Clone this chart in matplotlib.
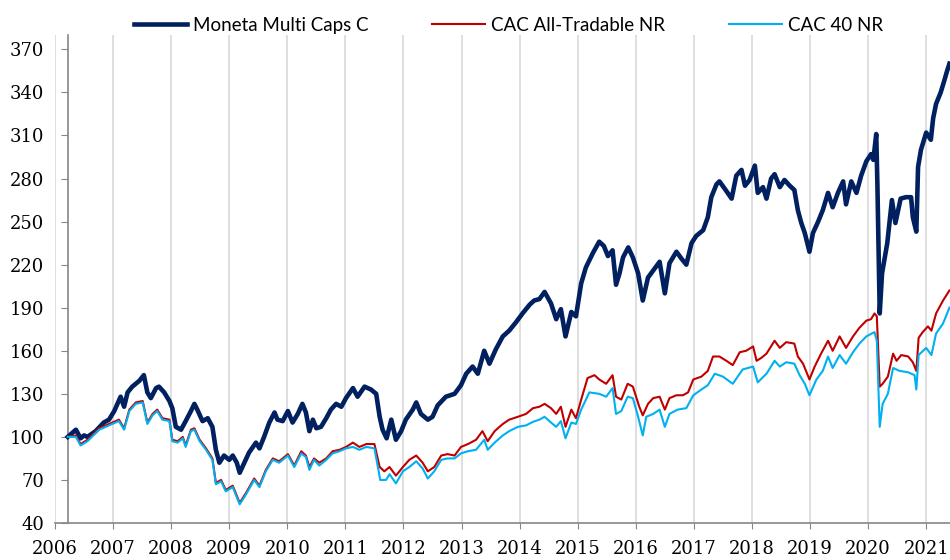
import matplotlib
matplotlib.use("Agg")
import matplotlib.pyplot as plt

# values (decimal year, index level, base 100)
moneta_t = [2006.22, 2006.36, 2006.44, 2006.50, 2006.56, 2006.70, 2006.84, 2006.93,
            2007.02, 2007.13, 2007.19, 2007.25, 2007.33, 2007.45, 2007.53, 2007.59,
            2007.65, 2007.74, 2007.79, 2007.88, 2007.97, 2008.02, 2008.08, 2008.17,
            2008.25, 2008.34, 2008.40, 2008.45, 2008.54, 2008.63, 2008.71, 2008.77,
            2008.83, 2008.91, 2009.00, 2009.06, 2009.13, 2009.18, 2009.26, 2009.34,
            2009.46, 2009.52, 2009.60, 2009.69, 2009.78, 2009.83, 2009.92, 2010.01,
            2010.09, 2010.18, 2010.26, 2010.32, 2010.38, 2010.44, 2010.50, 2010.58,
            2010.67, 2010.75, 2010.84, 2010.93, 2011.01, 2011.13, 2011.21, 2011.33,
            2011.44, 2011.53, 2011.59, 2011.64, 2011.71, 2011.79, 2011.87, 2011.96,
            2012.04, 2012.16, 2012.22, 2012.30, 2012.42, 2012.50, 2012.59, 2012.73,
            2012.88, 2012.99, 2013.08, 2013.19, 2013.28, 2013.39, 2013.48, 2013.59,
            2013.71, 2013.82, 2013.94, 2014.05, 2014.17, 2014.25, 2014.34, 2014.43,
            2014.54, 2014.63, 2014.71, 2014.79, 2014.89, 2014.97, 2015.06, 2015.14,
            2015.26, 2015.37, 2015.45, 2015.52, 2015.60, 2015.66, 2015.72, 2015.78,
            2015.87, 2015.95, 2016.04, 2016.12, 2016.21, 2016.30, 2016.41, 2016.50,
            2016.58, 2016.70, 2016.79, 2016.87, 2016.96, 2017.04, 2017.16, 2017.24,
            2017.30, 2017.39, 2017.44, 2017.53, 2017.65, 2017.73, 2017.82, 2017.88,
            2017.96, 2018.05, 2018.10, 2018.19, 2018.25, 2018.33, 2018.39, 2018.48,
            2018.56, 2018.65, 2018.73, 2018.79, 2018.85, 2018.91, 2018.99, 2019.05,
            2019.14, 2019.22, 2019.31, 2019.39, 2019.48, 2019.57, 2019.62, 2019.71,
            2019.80, 2019.88, 2019.97, 2020.05, 2020.09, 2020.14, 2020.16, 2020.20,
            2020.24, 2020.33, 2020.41, 2020.47, 2020.56, 2020.65, 2020.74, 2020.77,
            2020.83, 2020.86, 2020.91, 2021.00, 2021.08, 2021.12, 2021.17, 2021.25,
            2021.31, 2021.36, 2021.40]
moneta_v = [100, 105, 99, 101, 100, 104, 110, 112,
            118, 128, 121, 131, 135, 139, 143, 131,
            127, 134, 135, 131, 125, 120, 107, 105,
            111, 118, 123, 119, 111, 113, 107, 91,
            82, 87, 84, 87, 82, 75, 82, 89,
            96, 92, 100, 110, 117, 112, 111, 118,
            110, 116, 123, 117, 104, 112, 106, 107,
            113, 119, 123, 121, 127, 134, 128, 135,
            133, 130, 114, 105, 99, 112, 98, 104,
            112, 119, 124, 116, 112, 114, 122, 128,
            130, 136, 144, 149, 144, 160, 151, 161,
            170, 174, 180, 186, 192, 195, 196, 201,
            193, 182, 189, 170, 187, 184, 207, 218,
            228, 236, 233, 226, 230, 206, 214, 225,
            232, 225, 214, 195, 211, 216, 222, 200,
            221, 229, 224, 220, 235, 240, 244, 253,
            267, 276, 278, 273, 266, 282, 286, 275,
            279, 289, 270, 274, 266, 280, 283, 274,
            279, 275, 272, 258, 249, 242, 229, 242,
            250, 258, 270, 260, 270, 278, 262, 278,
            270, 282, 292, 297, 293, 311, 276, 186,
            214, 235, 265, 249, 266, 267, 267, 253,
            243, 288, 300, 312, 307, 322, 332, 340,
            348, 355, 360]

cac_all_t = [2006.22, 2006.36, 2006.44, 2006.56, 2006.76, 2006.93, 2007.10, 2007.19,
             2007.28, 2007.39, 2007.51, 2007.59, 2007.68, 2007.76, 2007.85, 2007.97,
             2008.02, 2008.11, 2008.20, 2008.25, 2008.34, 2008.40, 2008.49, 2008.60,
             2008.71, 2008.77, 2008.86, 2008.94, 2009.06, 2009.18, 2009.29, 2009.43,
             2009.52, 2009.63, 2009.75, 2009.86, 2010.01, 2010.12, 2010.24, 2010.32,
             2010.38, 2010.46, 2010.55, 2010.67, 2010.78, 2010.90, 2011.01, 2011.13,
             2011.24, 2011.36, 2011.50, 2011.59, 2011.67, 2011.76, 2011.87, 2011.99,
             2012.10, 2012.22, 2012.33, 2012.42, 2012.53, 2012.65, 2012.76, 2012.88,
             2012.99, 2013.11, 2013.25, 2013.36, 2013.45, 2013.57, 2013.71, 2013.82,
             2013.97, 2014.11, 2014.23, 2014.34, 2014.43, 2014.54, 2014.63, 2014.71,
             2014.79, 2014.89, 2014.97, 2015.06, 2015.17, 2015.29, 2015.37, 2015.49,
             2015.60, 2015.66, 2015.75, 2015.86, 2015.95, 2016.06, 2016.12, 2016.21,
             2016.30, 2016.41, 2016.50, 2016.58, 2016.70, 2016.81, 2016.90, 2016.99,
             2017.13, 2017.24, 2017.33, 2017.44, 2017.56, 2017.67, 2017.79, 2017.90,
             2018.02, 2018.08, 2018.16, 2018.25, 2018.39, 2018.48, 2018.59, 2018.73,
             2018.79, 2018.88, 2018.99, 2019.08, 2019.19, 2019.31, 2019.39, 2019.51,
             2019.62, 2019.74, 2019.85, 2019.97, 2020.05, 2020.11, 2020.15, 2020.20,
             2020.25, 2020.34, 2020.43, 2020.49, 2020.57, 2020.69, 2020.77, 2020.83,
             2020.87, 2020.94, 2021.03, 2021.09, 2021.17, 2021.29, 2021.40]
cac_all_v = [100, 101, 95, 98, 106, 109, 112, 106,
             119, 124, 125, 110, 116, 119, 113, 112,
             98, 97, 100, 94, 105, 106, 98, 92,
             85, 68, 70, 63, 66, 54, 61, 71,
             66, 77, 85, 83, 88, 80, 90, 87,
             79, 85, 82, 85, 90, 91, 93, 96,
             93, 95, 95, 79, 76, 79, 73, 79,
             84, 87, 82, 76, 79, 87, 88, 87,
             93, 95, 98, 104, 97, 104, 109, 112,
             114, 116, 120, 121, 123, 120, 116, 121,
             107, 119, 113, 126, 141, 143, 140, 137,
             143, 128, 126, 137, 135, 121, 115, 123,
             127, 128, 119, 127, 129, 129, 131, 140,
             142, 146, 156, 156, 153, 150, 159, 160,
             163, 153, 155, 158, 167, 162, 166, 165,
             156, 151, 140, 149, 158, 167, 160, 170,
             162, 170, 176, 181, 182, 186, 184, 135,
             137, 142, 158, 153, 157, 156, 152, 146,
             169, 173, 177, 174, 186, 195, 202]

cac40_t = [2006.22, 2006.36, 2006.44, 2006.56, 2006.76, 2006.93, 2007.10, 2007.19,
           2007.28, 2007.39, 2007.51, 2007.59, 2007.68, 2007.76, 2007.85, 2007.97,
           2008.02, 2008.11, 2008.20, 2008.25, 2008.34, 2008.40, 2008.49, 2008.60,
           2008.71, 2008.77, 2008.86, 2008.94, 2009.06, 2009.18, 2009.29, 2009.43,
           2009.52, 2009.63, 2009.75, 2009.86, 2010.01, 2010.12, 2010.24, 2010.32,
           2010.38, 2010.46, 2010.55, 2010.67, 2010.78, 2010.90, 2011.01, 2011.13,
           2011.24, 2011.36, 2011.50, 2011.60, 2011.70, 2011.76, 2011.87, 2011.99,
           2012.10, 2012.22, 2012.33, 2012.42, 2012.53, 2012.65, 2012.76, 2012.88,
           2012.99, 2013.11, 2013.25, 2013.39, 2013.45, 2013.57, 2013.71, 2013.82,
           2013.97, 2014.11, 2014.23, 2014.34, 2014.43, 2014.54, 2014.63, 2014.71,
           2014.79, 2014.89, 2014.97, 2015.06, 2015.20, 2015.37, 2015.49, 2015.60,
           2015.66, 2015.75, 2015.86, 2015.95, 2016.04, 2016.12, 2016.18, 2016.30,
           2016.41, 2016.50, 2016.58, 2016.72, 2016.87, 2016.99, 2017.13, 2017.24,
           2017.36, 2017.50, 2017.67, 2017.84, 2018.02, 2018.10, 2018.25, 2018.39,
           2018.48, 2018.59, 2018.73, 2018.82, 2018.91, 2018.99, 2019.11, 2019.22,
           2019.31, 2019.39, 2019.51, 2019.62, 2019.74, 2019.85, 2019.97, 2020.11,
           2020.15, 2020.20, 2020.25, 2020.34, 2020.43, 2020.54, 2020.69, 2020.80,
           2020.83, 2020.87, 2021.00, 2021.09, 2021.17, 2021.29, 2021.40]
cac40_v = [100, 100, 94, 97, 105, 108, 111, 105,
           118, 123, 124, 109, 115, 118, 112, 111,
           97, 96, 99, 93, 104, 105, 97, 91,
           84, 67, 69, 62, 65, 53, 60, 70,
           65, 76, 84, 82, 87, 79, 88.5, 86,
           77, 84, 80, 84, 88.5, 90, 92, 93,
           91, 93, 92, 70, 70, 74, 67.6, 76,
           79, 83, 78, 71, 76, 84, 85, 85,
           88.5, 90, 91, 98, 91, 96, 101, 104,
           107, 108, 110.5, 112, 114, 110, 107, 111,
           99, 110, 109, 119, 131, 130, 128, 134,
           116, 118, 128, 127, 114, 101, 114, 116,
           119, 107, 116, 119, 120, 129, 133, 136,
           144, 142, 137, 147, 149, 138, 144, 153,
           149, 152, 151, 143, 137, 129, 140, 146,
           156, 148, 157, 151, 159, 165, 170, 173,
           167, 107, 123, 130, 148, 146, 145, 143,
           133, 157, 162, 157, 172, 179, 190]

years = list(range(2006, 2022))
y_ticks = list(range(40, 371, 30))

navy, red, sky = '#002060', '#c00000', '#00b0f0'
axis_grey = '#868686'

fig = plt.figure(figsize=(9.5, 5.6), dpi=100)
ax = fig.add_axes([55 / 950, 37 / 560, 895 / 950, 488 / 560])

ax.plot(moneta_t, moneta_v, color=navy, lw=3.3, label='Moneta Multi Caps C',
        zorder=3, solid_joinstyle='round')
ax.plot(cac_all_t, cac_all_v, color=red, lw=1.5, label='CAC All-Tradable NR', zorder=4)
ax.plot(cac40_t, cac40_v, color=sky, lw=1.5, label='CAC 40 NR', zorder=5)

ax.set_xlim(2006.0, 2021.41)
ax.set_ylim(40, 380)
ax.set_xticks(years)
ax.set_yticks(y_ticks)
ax.grid(axis='x', color='#d9d9d9', lw=1.2)
ax.set_axisbelow(True)

for s in ['top', 'right']:
    ax.spines[s].set_visible(False)
ax.spines['left'].set_position(('data', 2006.22))
ax.spines['left'].set_color(axis_grey)
ax.spines['bottom'].set_color(axis_grey)
ax.spines['left'].set_linewidth(1.2)
ax.spines['bottom'].set_linewidth(1.2)

ax.tick_params(axis='y', direction='out', length=5, color=axis_grey, pad=12,
               labelsize=13)
ax.tick_params(axis='x', direction='out', length=4, color=axis_grey, pad=8,
               labelsize=13)
for lab in ax.get_xticklabels() + ax.get_yticklabels():
    lab.set_fontfamily('DejaVu Serif')

fig.legend(loc='upper center', bbox_to_anchor=(0.535, 1.0), ncol=3,
           frameon=False, prop={'family': 'Lato', 'size': 13.5},
           handlelength=2.85, handletextpad=0.3, columnspacing=3.4)

plt.savefig('out.png', dpi=100)
